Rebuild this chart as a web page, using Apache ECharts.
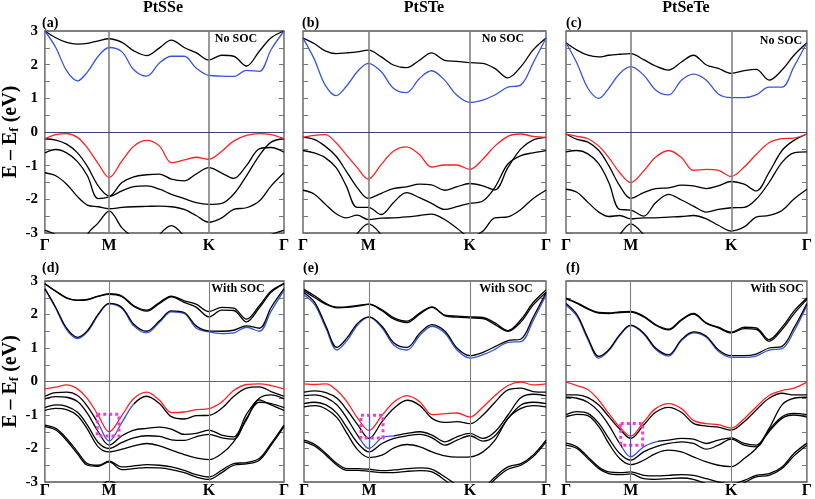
<!DOCTYPE html>
<html><head><meta charset="utf-8">
<script src="https://cdn.jsdelivr.net/npm/echarts@6.0.0/dist/echarts.min.js"></script>
<style>html,body{margin:0;padding:0;background:#fff}#c{width:815px;height:499px}</style>
</head><body><div id="c"></div>
<script>
// k-path coordinate (Γ=0, M=65, K=166, Γ=242)
const kx = [0,11,22,33,43,54,65,78,90,103,116,128,141,153,166,179,191,204,217,229,242];
const kTicks = [0,65,166,242];
const kLabels = ['Γ','M','K','Γ'];
const yTicks = [-3,-2,-1,0,1,2,3];
const titles = ['PtSSe','PtSTe','PtSeTe'];
const panelTags = ['(a)','(b)','(c)','(d)','(e)','(f)'];

// (a) PtSSe, no SOC
const aUp   = [3.0,2.80,2.66,2.61,2.63,2.71,2.77,2.66,2.41,2.27,2.50,2.73,2.51,2.36,2.14,2.28,2.25,1.96,2.40,2.80,3.0];
const aBlue = [3.0,2.51,1.82,1.52,1.78,2.25,2.51,2.38,1.85,1.66,2.05,2.25,2.25,1.90,1.68,1.66,1.65,1.83,1.80,2.45,3.0];
const aRed  = [-0.20,-0.08,-0.05,-0.16,-0.47,-0.94,-1.35,-0.86,-0.42,-0.25,-0.42,-0.91,-0.83,-0.75,-0.81,-0.57,-0.27,-0.10,-0.05,-0.08,-0.20];
const aP    = [-0.20,-0.24,-0.36,-0.62,-1.02,-1.60,-1.90,-1.50,-1.33,-1.27,-1.25,-1.40,-1.45,-1.25,-1.06,-1.22,-1.38,-1.00,-0.50,-0.46,-0.60];
const aQ    = [-0.62,-0.52,-0.62,-0.88,-1.30,-1.98,-1.93,-1.75,-1.62,-1.60,-1.70,-1.85,-1.98,-2.10,-2.15,-2.12,-1.85,-1.30,-0.70,-0.30,-0.20];
const aR    = [-1.21,-1.30,-1.55,-1.92,-2.17,-2.22,-2.28,-2.24,-2.22,-2.21,-2.20,-2.22,-2.30,-2.48,-2.68,-2.55,-2.30,-2.25,-2.05,-1.60,-1.21];
const aCone = [-4,-4,-4,-4,-3.05,-2.70,-2.35,-2.85,-3.2,-4,-4,-4,-4,-4,-4,-4,-4,-4,-4,-4,-4];
const aLow  = [-2.92,-3.05,-3.3,-3.6,-3.6,-3.6,-3.6,-3.6,-3.6,-3.6,-3.05,-2.78,-3.1,-3.6,-3.6,-3.6,-3.6,-3.6,-3.3,-3.05,-2.92];

// (b) PtSTe, no SOC
const bUp   = [2.79,2.63,2.41,2.33,2.35,2.38,2.43,2.23,1.99,1.91,2.13,2.35,2.13,2.10,2.06,2.04,1.89,1.61,1.94,2.43,2.79];
const bBlue = [2.79,2.18,1.40,1.08,1.35,1.79,2.04,1.79,1.30,1.17,1.59,1.82,1.54,1.10,0.88,0.95,1.10,1.33,1.40,2.04,2.79];
const bRed  = [-0.16,-0.10,-0.08,-0.32,-0.67,-1.06,-1.40,-0.96,-0.57,-0.44,-0.67,-1.04,-0.98,-0.98,-1.11,-0.81,-0.42,-0.13,-0.06,-0.13,-0.16];
const bP    = [-0.16,-0.22,-0.42,-0.72,-1.16,-1.65,-1.97,-1.82,-1.68,-1.63,-1.55,-1.57,-1.73,-1.63,-1.53,-1.60,-1.72,-1.06,-0.50,-0.24,-0.16];
const bQ    = [-0.55,-0.62,-0.76,-1.06,-1.60,-2.24,-2.24,-2.45,-2.10,-1.80,-1.95,-2.12,-2.30,-2.22,-2.12,-2.05,-1.65,-0.95,-0.70,-0.62,-0.55];
const bR    = [-1.73,-1.84,-2.14,-2.43,-2.55,-2.47,-2.60,-2.56,-2.55,-2.52,-2.48,-2.44,-2.60,-2.85,-3.10,-2.95,-2.55,-2.52,-2.30,-1.98,-1.73];
const bCone = [-4,-4,-4,-4,-3.5,-3.02,-2.73,-3.05,-3.5,-4,-4,-4,-4,-4,-4,-4,-4,-4,-4,-4,-4];

// (c) PtSeTe, no SOC
const cUp   = [2.65,2.43,2.28,2.23,2.28,2.31,2.33,2.15,1.96,1.84,2.08,2.28,1.99,1.89,1.74,1.82,1.86,1.54,1.84,2.28,2.65];
const cBlue = [2.65,2.04,1.30,1.00,1.30,1.74,1.94,1.69,1.25,1.10,1.54,1.72,1.54,1.13,1.02,1.02,1.10,1.33,1.33,1.94,2.65];
const cRed  = [-0.06,-0.13,-0.20,-0.42,-0.76,-1.21,-1.50,-1.16,-0.75,-0.55,-0.76,-1.14,-1.11,-1.14,-1.32,-1.04,-0.67,-0.32,-0.20,-0.18,-0.06];
const cP    = [-0.06,-0.22,-0.30,-0.55,-1.00,-1.60,-1.97,-1.80,-1.68,-1.66,-1.58,-1.60,-1.68,-1.60,-1.47,-1.55,-1.75,-1.20,-0.55,-0.25,-0.06];
const cQ    = [-0.59,-0.55,-0.65,-0.95,-1.50,-2.30,-2.32,-2.50,-2.10,-1.85,-2.02,-2.20,-2.38,-2.30,-2.25,-2.24,-2.00,-1.50,-0.90,-0.62,-0.59];
const cR    = [-1.70,-1.79,-2.09,-2.38,-2.51,-2.48,-2.58,-2.55,-2.55,-2.53,-2.51,-2.48,-2.58,-2.77,-2.94,-2.82,-2.53,-2.48,-2.33,-1.99,-1.70];
const cCone = [-4,-4,-4,-4,-3.5,-3.05,-2.73,-3.05,-3.5,-4,-4,-4,-4,-4,-4,-4,-4,-4,-4,-4,-4];

// (d) PtSSe, with SOC
const dU1  = [2.92,2.70,2.50,2.43,2.45,2.55,2.62,2.55,2.26,2.13,2.36,2.55,2.41,2.31,2.09,2.21,2.19,1.86,2.26,2.70,2.92];
const dU2  = [2.92,2.69,2.49,2.42,2.44,2.54,2.60,2.53,2.24,2.10,2.33,2.53,2.36,2.22,1.93,2.13,2.12,1.78,2.20,2.66,2.92];
const dL1  = [2.77,2.21,1.59,1.32,1.52,2.01,2.33,2.21,1.71,1.50,1.81,2.11,2.06,1.66,1.51,1.50,1.53,1.66,1.59,2.21,2.77];
const dL2  = [2.77,2.18,1.55,1.28,1.48,1.98,2.32,2.18,1.66,1.45,1.77,2.08,2.03,1.60,1.48,1.43,1.45,1.62,1.50,2.10,2.72];
const dRed = [-0.22,-0.17,-0.10,-0.22,-0.51,-1.01,-1.50,-1.01,-0.51,-0.32,-0.56,-0.93,-0.91,-0.84,-0.81,-0.61,-0.27,-0.09,-0.07,-0.12,-0.22];
const dA1  = [-0.44,-0.33,-0.32,-0.42,-0.74,-1.25,-1.78,-1.22,-0.67,-0.44,-0.66,-1.05,-1.12,-1.02,-1.01,-0.80,-0.45,-0.20,-0.16,-0.30,-0.44];
const dA2  = [-0.52,-0.45,-0.47,-0.60,-0.95,-1.50,-1.90,-1.62,-1.45,-1.40,-1.36,-1.42,-1.58,-1.55,-1.45,-1.60,-1.65,-0.98,-0.50,-0.40,-0.52];
const dB1  = [-0.78,-0.70,-0.74,-0.92,-1.30,-1.82,-2.00,-1.82,-1.68,-1.62,-1.64,-1.74,-1.76,-1.65,-1.58,-1.68,-1.72,-1.10,-0.62,-0.66,-0.78];
const dB2  = [-0.86,-0.80,-0.84,-1.02,-1.42,-1.95,-2.10,-2.02,-1.92,-1.85,-1.92,-2.05,-2.18,-2.28,-2.33,-2.15,-1.80,-1.15,-0.55,-0.70,-0.86];
const dC1  = [-1.30,-1.40,-1.70,-2.10,-2.45,-2.50,-2.38,-2.55,-2.52,-2.48,-2.50,-2.55,-2.65,-2.78,-2.85,-2.65,-2.45,-2.42,-2.30,-1.85,-1.30];
const dC2  = [-1.35,-1.45,-1.76,-2.16,-2.50,-2.53,-2.40,-2.63,-2.60,-2.57,-2.58,-2.63,-2.72,-2.85,-2.92,-2.72,-2.50,-2.46,-2.35,-1.90,-1.35];
const dCone= [-4,-4,-4,-4,-4,-3.2,-2.98,-3.2,-4,-4,-4,-4,-4,-4,-4,-4,-4,-4,-4,-4,-4];

// (e) PtSTe, with SOC
const eU1  = [2.75,2.55,2.33,2.22,2.23,2.27,2.31,2.14,1.90,1.80,2.05,2.23,1.98,1.95,1.93,1.91,1.75,1.52,1.85,2.35,2.73];
const eU2  = [2.70,2.50,2.30,2.20,2.21,2.25,2.30,2.11,1.86,1.76,2.02,2.21,1.96,1.92,1.90,1.88,1.70,1.50,1.78,2.28,2.66];
const eL1  = [2.65,2.35,1.65,1.02,1.30,1.75,1.93,1.65,1.15,1.02,1.45,1.70,1.50,1.00,0.77,0.87,1.04,1.22,1.27,1.91,2.65];
const eL2  = [2.58,2.28,1.58,0.94,1.22,1.70,1.92,1.60,1.08,0.94,1.38,1.65,1.44,0.94,0.70,0.80,0.96,1.17,1.19,1.81,2.58];
const eRed = [-0.07,-0.09,-0.07,-0.27,-0.61,-1.11,-1.46,-1.01,-0.61,-0.42,-0.61,-0.99,-0.96,-0.94,-1.06,-0.76,-0.42,-0.12,-0.02,-0.10,-0.07];
const eA1  = [-0.32,-0.28,-0.33,-0.50,-0.85,-1.30,-1.70,-1.20,-0.80,-0.56,-0.72,-1.10,-1.22,-1.20,-1.26,-1.00,-0.62,-0.25,-0.20,-0.30,-0.32];
const eA2  = [-0.42,-0.40,-0.48,-0.70,-1.10,-1.62,-2.00,-1.68,-1.62,-1.55,-1.50,-1.60,-1.80,-1.65,-1.55,-1.70,-1.50,-1.00,-0.48,-0.38,-0.42];
const eB1  = [-0.66,-0.62,-0.70,-0.95,-1.38,-1.85,-2.10,-1.85,-1.70,-1.62,-1.58,-1.68,-1.90,-1.75,-1.62,-1.78,-1.62,-1.10,-0.70,-0.62,-0.66];
const eB2  = [-0.76,-0.72,-0.82,-1.08,-1.55,-2.05,-2.27,-2.20,-1.98,-1.88,-1.95,-2.10,-2.22,-2.26,-2.25,-2.10,-1.75,-1.10,-0.80,-0.72,-0.76];
const eC1  = [-1.75,-1.88,-2.15,-2.45,-2.60,-2.60,-2.62,-2.66,-2.64,-2.60,-2.58,-2.62,-2.85,-3.10,-3.40,-3.20,-2.85,-2.55,-2.45,-2.20,-1.75];
const eC2  = [-1.80,-1.93,-2.20,-2.50,-2.65,-2.65,-2.68,-2.72,-2.72,-2.68,-2.66,-2.70,-2.95,-3.25,-3.50,-3.30,-2.92,-2.62,-2.50,-2.25,-1.80];

// (f) PtSeTe, with SOC
const fU1  = [2.49,2.35,2.18,2.06,2.05,2.08,2.09,1.95,1.70,1.56,1.85,2.03,1.75,1.62,1.47,1.62,1.60,1.25,1.62,2.10,2.49];
const fU2  = [2.47,2.33,2.16,2.04,2.03,2.06,2.07,1.93,1.68,1.54,1.83,2.01,1.73,1.60,1.45,1.58,1.56,1.20,1.55,2.02,2.45];
const fL1  = [2.33,2.00,1.30,0.75,0.95,1.40,1.68,1.45,1.00,0.80,1.25,1.48,1.35,0.95,0.77,0.77,0.82,1.00,1.05,1.60,2.33];
const fL2  = [2.28,1.95,1.25,0.70,0.92,1.37,1.67,1.42,0.96,0.76,1.22,1.45,1.32,0.90,0.72,0.72,0.76,0.94,0.98,1.50,2.28];
const fRed = [-0.02,-0.12,-0.24,-0.56,-0.96,-1.36,-1.63,-1.21,-0.81,-0.66,-0.81,-1.16,-1.26,-1.29,-1.39,-1.11,-0.76,-0.42,-0.27,-0.20,-0.02];
const fA1  = [-0.40,-0.40,-0.48,-0.70,-1.05,-1.42,-1.70,-1.30,-0.92,-0.77,-0.92,-1.25,-1.33,-1.36,-1.45,-1.20,-0.85,-0.50,-0.35,-0.40,-0.40];
const fA2  = [-0.47,-0.50,-0.62,-0.90,-1.30,-1.85,-2.25,-1.95,-1.80,-1.75,-1.70,-1.72,-1.85,-1.75,-1.68,-1.85,-1.90,-1.40,-0.70,-0.50,-0.47];
const fB1  = [-0.99,-0.90,-0.95,-1.25,-1.70,-2.15,-2.35,-2.10,-1.95,-1.85,-1.80,-1.85,-2.02,-1.90,-1.72,-1.90,-1.95,-1.45,-1.05,-0.95,-0.99];
const fB2  = [-1.06,-0.98,-1.02,-1.35,-1.85,-2.30,-2.48,-2.35,-2.15,-2.05,-2.10,-2.25,-2.40,-2.50,-2.54,-2.30,-2.00,-1.50,-1.10,-1.00,-1.06];
const fC1  = [-1.84,-1.95,-2.25,-2.55,-2.70,-2.72,-2.70,-2.80,-2.82,-2.80,-2.78,-2.80,-2.90,-3.00,-3.05,-2.95,-2.80,-2.75,-2.55,-2.15,-1.84];
const fC2  = [-1.90,-2.00,-2.30,-2.60,-2.75,-2.78,-2.76,-2.90,-2.92,-2.90,-2.88,-2.92,-3.05,-3.15,-3.20,-3.02,-2.85,-2.80,-2.60,-2.22,-1.90];

// highlighted regions (pink dotted boxes): [kStart,kEnd,Etop,Ebottom]
const boxD = [53,75,-0.98,-1.63], boxE = [57,79,-1.01,-1.69], boxF = [55,77,-1.25,-1.90];
// k-range of the band segment drawn in blue near M, and blue vertical marker at M [Etop,Ebottom]
const blueSegD = [54,90], blueSegE = [56,90], blueSegF = [56,92];
const blueVertD = [-0.98,-1.78], blueVertE = [-1.01,-2.00], blueVertF = [-1.25,-2.25];

const K='#000000', RD='#ff2020', BL='#3555dd', PINK='#f03cd0';
const FONT = '"Liberation Serif","Times New Roman",serif';

const grids = [
  {left:42, top:31, width:242, height:202},
  {left:303, top:31, width:243, height:202},
  {left:566, top:31, width:241, height:202},
  {left:42, top:281, width:242, height:201},
  {left:304, top:281, width:242, height:201},
  {left:566, top:281, width:241, height:201}
];
const panels = [
  {bands:[[aUp,K],[aP,K],[aQ,K],[aR,K],[aCone,K],[aLow,K],[aBlue,BL],[aRed,RD]]},
  {bands:[[bUp,K],[bP,K],[bQ,K],[bR,K],[bCone,K],[bBlue,BL],[bRed,RD]]},
  {bands:[[cUp,K],[cP,K],[cQ,K],[cR,K],[cCone,K],[cBlue,BL],[cRed,RD]]},
  {bands:[[dL2,BL],[dU1,K],[dU2,K],[dL1,K],[dA1,K,blueSegD],[dA2,K],[dB1,K],[dB2,K],[dC1,K],[dC2,K],[dCone,K],[dRed,RD]], box:boxD, vert:blueVertD},
  {bands:[[eL2,BL],[eU1,K],[eU2,K],[eL1,K],[eA1,K],[eA2,K,blueSegE],[eB1,K],[eB2,K],[eC1,K],[eC2,K],[eRed,RD]], box:boxE, vert:blueVertE},
  {bands:[[fL2,BL],[fU1,K],[fU2,K],[fL1,K],[fA1,K],[fA2,K,blueSegF],[fB1,K],[fB2,K],[fC1,K],[fC2,K],[fRed,RD]], box:boxF, vert:blueVertF}
];

const xAxes=[], yAxes=[], series=[], visualMaps=[];
grids.forEach((g,gi)=>{
  const top = gi<3;
  xAxes.push({gridIndex:gi, type:'value', min:0, max:242,
    axisLine:{show:false}, axisTick:{show:false}, splitLine:{show:false},
    axisLabel:{customValues:kTicks, formatter:(v)=>kLabels[kTicks.indexOf(v)] || '',
      fontFamily:FONT, fontWeight:'bold', fontSize:16, color:'#000', margin: top?5:1}});
  const yl = {gridIndex:gi, type:'value', min:-3, max:3, interval:0.5,
    axisLine:{show:false}, splitLine:{show:false},
    axisTick:{show:true, inside:true, length:5, lineStyle:{color:'#777', width:1}},
    axisLabel:{show: gi%3===0, fontFamily:FONT, fontWeight:'bold', fontSize:15, color:'#000', margin:7,
      formatter:(v)=> yTicks.includes(v) ? String(v) : ''}};
  if (gi%3===0) {
    yl.name = '{a|E – E}{s|f}{a| (eV)}';
    yl.nameLocation = 'middle'; yl.nameGap = 21; yl.nameRotate = 90;
    yl.nameTextStyle = {rich:{a:{fontFamily:FONT, fontWeight:'bold', fontSize:20, color:'#000'},
      s:{fontFamily:FONT, fontWeight:'bold', fontSize:13, color:'#000', padding:[8,0,0,0]}}};
  }
  yAxes.push(yl);
  yAxes.push({gridIndex:gi, type:'value', min:-3, max:3, interval:0.5, position:'right',
    axisLine:{show:false}, splitLine:{show:false}, axisLabel:{show:false},
    axisTick:{show:true, inside:true, length:5, lineStyle:{color:'#777', width:1}}});

  const p = panels[gi];
  const mlData = [
    {xAxis:kTicks[1], lineStyle:{color:'#808080', width: top?1.6:1.1, type:'solid'}},
    {xAxis:kTicks[2], lineStyle:{color:'#808080', width: top?1.6:1.1, type:'solid'}},
    {yAxis:0, lineStyle:{color: top?'#3a4470':'#666', width:1, type:'solid'}}];
  if (p.vert) mlData.push([{coord:[kTicks[1],p.vert[0]], lineStyle:{color:BL, width:1.2, type:'solid'}},{coord:[kTicks[1],p.vert[1]]}]);
  const frame = {type:'line', xAxisIndex:gi, yAxisIndex:2*gi, data:[], silent:true, z:1,
    markLine:{silent:true, symbol:'none', label:{show:false}, animation:false, data:mlData}};
  if (p.box) {
    frame.markArea = {silent:true, z:5, itemStyle:{color:'rgba(0,0,0,0)', borderColor:PINK, borderWidth:3, borderType:[3,3]},
      data:[[{coord:[p.box[0],p.box[2]]},{coord:[p.box[1],p.box[3]]}]]};
  }
  series.push(frame);
  p.bands.forEach(([arr,color,seg])=>{
    const idx = series.length;
    const s = {type:'line', xAxisIndex:gi, yAxisIndex:2*gi, data:kx.map((x,i)=>[x,arr[i]]),
      smooth:0.35, symbol:'none', silent:true, z:3, animation:false, lineStyle:{width:1.3}};
    if (seg) {
      visualMaps.push({type:'piecewise', show:false, dimension:0, seriesIndex:idx,
        pieces:[{gte:seg[0], lte:seg[1], color:BL}], outOfRange:{color:K}});
    } else {
      s.lineStyle.color = color; s.itemStyle = {color};
    }
    series.push(s);
  });
});

const graphics = [];
const titleX = [163,424,686];
titles.forEach((t,i)=>graphics.push({type:'text', style:{x:titleX[i], y:8, text:t, textAlign:'center', textVerticalAlign:'middle',
  font:'bold 16px '+FONT, fill:'#000'}}));
const tagPos = [[42,23],[302,23],[566,23],[42,268],[303,268],[566,268]];
panelTags.forEach((t,i)=>graphics.push({type:'text', style:{x:tagPos[i][0], y:tagPos[i][1], text:t, textAlign:'left', textVerticalAlign:'middle',
  font:'bold 14px '+FONT, fill:'#000'}}));
const socPos = [[236,39,'No SOC'],[503,39,'No SOC'],[781,41,'No SOC'],[238,289,'With SOC'],[506,289,'With SOC'],[777,289,'With SOC']];
socPos.forEach(s=>graphics.push({type:'text', style:{x:s[0], y:s[1], text:s[2], textAlign:'center', textVerticalAlign:'middle',
  font:'bold 12px '+FONT, fill:'#000'}}));

const chart = echarts.init(document.getElementById('c'), null, {renderer:'canvas'});
chart.setOption({
  animation:false,
  backgroundColor:'#fff',
  grid: grids.map(g=>Object.assign({show:true, borderColor:'#555', borderWidth:1.3, backgroundColor:'transparent', containLabel:false}, g)),
  xAxis:xAxes, yAxis:yAxes, series, visualMap:visualMaps, graphic:graphics
});
</script></body></html>
